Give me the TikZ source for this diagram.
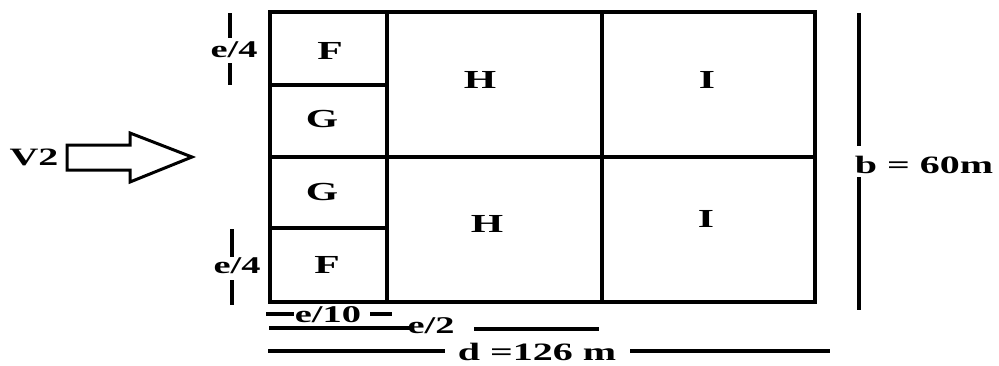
\documentclass[tikz,border=0pt]{standalone}
\usepackage{fontspec}
\newfontfamily\lbl{Liberation Serif}[FakeStretch=1.6]
\begin{document}
\begin{tikzpicture}[x=1pt,y=-1pt,
  wall/.style={line width=4pt},
  dimline/.style={line width=4pt},
  arrowshape/.style={line width=3pt, line join=miter},
  lab/.style={font=\lbl\bfseries\fontsize{26}{30}\selectfont, inner sep=0pt, text=black},
  dlab/.style={font=\lbl\bfseries\fontsize{25}{30}\selectfont, inner sep=0pt, text=black, anchor=base}]
\useasboundingbox (0,0) rectangle (999,365);
% plan
\coordinate (tl) at (270,12);
\coordinate (br) at (815,302);
\draw[wall] (tl) rectangle (br);
\draw[wall] (270,157) -- (815,157);
\draw[wall] (387,12) -- (387,302);
\draw[wall] (602,12) -- (602,302);
\draw[wall] (270,85) -- (387,85);
\draw[wall] (270,228) -- (387,228);
% zone labels
\node[lab] (F1) at (330,51) {F};
\node[lab] (G1) at (322,119) {G};
\node[lab] (H1) at (480,80) {H};
\node[lab] (I1) at (707,80) {I};
\node[lab] (G2) at (322,192) {G};
\node[lab] (H2) at (487,224) {H};
\node[lab] (I2) at (706,219) {I};
\node[lab] (F2) at (327,265) {F};
% wind arrow
\draw[arrowshape] (67,145) -- (130,145) -- (130,133) -- (192,157) -- (130,182) -- (130,170) -- (67,170) -- cycle;
\node[dlab] (V2) at (34,165) {V2};
% e/4 top
\node[dlab,font=\lbl\bfseries\fontsize{24}{28}\selectfont] (e4t) at (234,57) {e/4};
\coordinate (e4ta) at (230,13); \coordinate (e4tb) at (230,38);
\coordinate (e4tc) at (230,63); \coordinate (e4td) at (230,85);
\draw[dimline] (e4ta) -- (e4tb);
\draw[dimline] (e4tc) -- (e4td);
% e/4 bottom
\node[dlab,font=\lbl\bfseries\fontsize{24}{28}\selectfont] (e4b) at (237,273) {e/4};
\coordinate (e4ba) at (232,229); \coordinate (e4bb) at (232,257);
\coordinate (e4bc) at (232,280); \coordinate (e4bd) at (232,305);
\draw[dimline] (e4ba) -- (e4bb);
\draw[dimline] (e4bc) -- (e4bd);
% e/10
\node[dlab,font=\lbl\bfseries\fontsize{24}{28}\selectfont] (e10) at (328,322) {e/10};
\coordinate (e10a) at (266,314); \coordinate (e10b) at (294,314);
\coordinate (e10c) at (370,314); \coordinate (e10d) at (392,314);
\draw[dimline] (e10a) -- (e10b);
\draw[dimline] (e10c) -- (e10d);
% e/2
\node[dlab,font=\lbl\bfseries\fontsize{24}{28}\selectfont] (e2) at (431,333) {e/2};
\coordinate (e2a) at (269,328); \coordinate (e2b) at (410,328);
\coordinate (e2c) at (474,329); \coordinate (e2d) at (599,329);
\draw[dimline] (e2a) -- (e2b);
\draw[dimline] (e2c) -- (e2d);
% d
\node[dlab] (d) at (537,360) {d =126 m};
\coordinate (da) at (268,351); \coordinate (db) at (445,351);
\coordinate (dc) at (630,351); \coordinate (dd) at (830,351);
\draw[dimline] (da) -- (db);
\draw[dimline] (dc) -- (dd);
% b
\node[dlab] (b) at (924,173) {b = 60m};
\coordinate (ba) at (859,13); \coordinate (bb) at (859,146);
\coordinate (bc) at (859,177); \coordinate (bd) at (859,310);
\draw[dimline] (ba) -- (bb);
\draw[dimline] (bc) -- (bd);
\end{tikzpicture}
\end{document}
